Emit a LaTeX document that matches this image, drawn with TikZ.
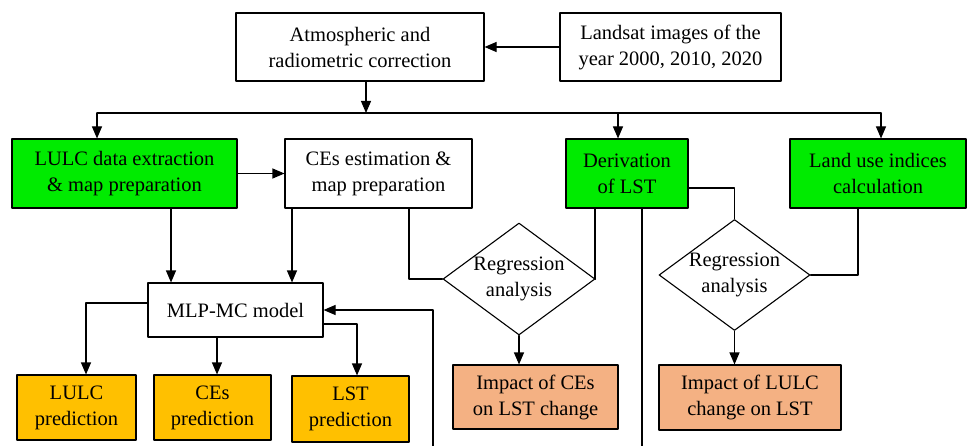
\documentclass[tikz,border=0pt]{standalone}
\usepackage{fontspec}
\setmainfont{Liberation Serif}
\usepackage{tikz}
\usetikzlibrary{arrows.meta,shapes.geometric}
\definecolor{boxgreen}{RGB}{0,235,0}
\definecolor{boxgold}{RGB}{255,192,0}
\definecolor{boxsalmon}{RGB}{244,177,131}
\begin{document}
\begin{tikzpicture}[line cap=round,line join=round,>={Triangle[length=12pt,width=10pt]},x=1pt,y=-1pt,
	line width=1.1pt,
	blk/.style={draw,align=center,inner sep=0pt,font=\fontsize{20.5}{26}\selectfont},
	green/.style={blk,fill=boxgreen},
	gold/.style={blk,fill=boxgold},
	salmon/.style={blk,fill=boxsalmon},
	regress/.style={blk,diamond,shape aspect=1.36,fill=white,minimum width=152pt,minimum height=112pt}]
	\useasboundingbox (0,0) rectangle (968,446);
	\node[blk,minimum width=248pt,minimum height=68pt] (atmo) at (360,47) {Atmospheric and\\radiometric correction};
	\node[blk,minimum width=221pt,minimum height=68pt] (landsat) at (670.5,47) {Landsat images of the\\year 2000, 2010, 2020};
	\node[green,minimum width=225pt,minimum height=69pt] (lulc) at (124.5,173.5) {LULC data extraction\\\& map preparation};
	\node[blk,minimum width=187pt,minimum height=69pt] (ces) at (378.5,173.5) {CEs estimation \&\\map preparation};
	\node[green,minimum width=122pt,minimum height=69pt] (lst) at (627,173.5) {Derivation\\of LST};
	\node[green,minimum width=176pt,minimum height=69pt] (indices) at (878,173.5) {Land use indices\\calculation};
	\node[blk,minimum width=175pt,minimum height=54pt] (mlp) at (235.5,310) {MLP-MC model};
	\node[regress] (reg1) at (519,279) {Regression\\analysis};
	\node[regress,minimum width=151pt,minimum height=110pt] (reg2) at (734.5,275) {Regression\\analysis};
	\node[salmon,minimum width=165pt,minimum height=64pt] (impces) at (535.5,397) {Impact of CEs\\on LST change};
	\node[salmon,minimum width=182pt,minimum height=65pt] (implulc) at (750,397.5) {Impact of LULC\\change on LST};
	\node[gold,minimum width=119pt,minimum height=65pt] (predlulc) at (76.5,407.5) {LULC\\prediction};
	\node[gold,minimum width=117pt,minimum height=65pt] (predces) at (212.5,407.5) {CEs\\prediction};
	\node[gold,minimum width=117pt,minimum height=66pt] (predlst) at (350.5,409) {LST\\prediction};
	% bus under the correction box
	\coordinate (bus) at (366,113);
	\coordinate (busL) at (97,113);
	\coordinate (busM) at (618,113);
	\coordinate (busR) at (881,113);
	\draw[->] (landsat) -- (atmo);
	\draw[->] (atmo.south -| bus) -- (bus);
	\draw (busL) -- (busR);
	\draw[->] (busL) -- (busL |- lulc.north);
	\draw[->] (busM) -- (busM |- lst.north);
	\draw[->] (busR) -- (busR |- indices.north);
	\draw[->] (lulc) -- (ces);
	% into the model
	\draw[->] ([xshift=46.5]lulc.south) -- ([xshift=46.5]lulc.south |- mlp.north);
	\draw[->] ([xshift=-86.5]ces.south) -- ([xshift=-86.5]ces.south |- mlp.north);
	\coordinate (fb) at (433,446);
	\draw[->] (fb) |- (mlp.east);
	% predictions
	\draw[->] ([yshift=7]mlp.west) -| ([xshift=9.5]predlulc.north);
	\draw[->] ([xshift=-18.5]mlp.south) -- ([xshift=-18.5]mlp.south |- predces.north);
	\draw[->] ([yshift=-14]mlp.east) -| ([xshift=6.5]predlst.north);
	% regressions
	\draw ([xshift=30.5]ces.south) |- (reg1.west);
	\draw ([xshift=-32]lst.south) |- (reg1.east);
	\draw[->] (reg1.south) -- (reg1.south |- impces.north);
	\coordinate (lstend) at (642,446);
	\draw ([xshift=15]lst.south) -- (lstend);
	\draw ([yshift=-14.5]lst.east) -| (reg2.north);
	\draw ([xshift=-20]indices.south) |- (reg2.east);
	\draw[->] (reg2.south) -- (reg2.south |- implulc.north);
\end{tikzpicture}
\end{document}
